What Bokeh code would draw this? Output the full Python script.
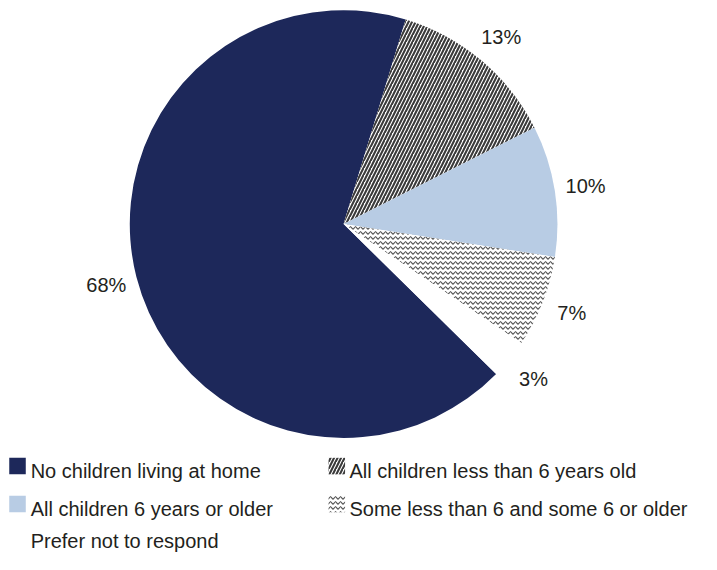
import math
from bokeh.plotting import figure
from bokeh.models import Range1d
from bokeh.core.properties import value
from bokeh.embed import file_html
from bokeh.resources import INLINE

# ---- data ----
categories = [
    "No children living at home",
    "All children less than 6 years old",
    "All children 6 years or older",
    "Some less than 6 and some 6 or older",
    "Prefer not to respond",
]
values = [68, 13, 10, 7, 3]
pct_labels = ["68%", "13%", "10%", "7%", "3%"]

# ---- styles / layout ----
W, H = 701, 554
S = 0.972                      # overall layout scale so the whole fits the window
FONT = "Liberation Sans"
FS = "20px"
TXT = "#231f20"
styles = [
    dict(fill_color="#1d285a", hatch_pattern=" ", hatch_color="#1d285a", hatch_scale=6, hatch_weight=1),
    dict(fill_color="white", hatch_pattern="right_diagonal_line", hatch_color="#3a3a3a", hatch_scale=7, hatch_weight=2.1),
    dict(fill_color="#b8cce4", hatch_pattern=" ", hatch_color="#b8cce4", hatch_scale=6, hatch_weight=1),
    dict(fill_color="white", hatch_pattern="horizontal_wave", hatch_color="#555555", hatch_scale=5, hatch_weight=1.1),
    dict(fill_color="white", hatch_pattern=" ", hatch_color="white", hatch_scale=6, hatch_weight=1),
]
legend_has_icon = [True, True, True, True, False]

def X(px):
    return px * S

def Y(py):
    return H - py * S

cx, cy, R = X(353), Y(230), 220 * S
first_slice_deg = 134.5   # clockwise from 12 o'clock
label_r = 252 * S

p = figure(width=W, height=H, output_backend="svg", toolbar_location=None,
           x_range=Range1d(0, W), y_range=Range1d(0, H), min_border=0,
           outline_line_color=None, background_fill_color="white")
p.axis.visible = False
p.grid.visible = False

total = float(sum(values))
cum = 0.0
for i, v in enumerate(values):
    t1 = first_slice_deg + 360.0 * cum / total
    t2 = t1 + 360.0 * v / total
    cum += v
    p.wedge(x=[cx], y=[cy], radius=R,
            start_angle=[math.radians(90 - t2)], end_angle=[math.radians(90 - t1)],
            line_color=None, **styles[i])
    tm = math.radians((t1 + t2) / 2.0)
    p.text(x=[cx + label_r * math.sin(tm)], y=[cy + label_r * math.cos(tm)], text=[pct_labels[i]],
           text_font=value(FONT), text_font_size=FS, text_color=TXT,
           text_align="center", text_baseline="middle")

# ---- legend ----
icon_cx = [X(17.5), X(346)]
text_x = [X(31), X(359)]
row_base = [Y(484), Y(523), Y(556)]     # text baselines
box = 17 * S
for i, cat in enumerate(categories):
    col = 0 if i in (0, 2, 4) else 1
    row = [0, 0, 1, 1, 2][i]
    if legend_has_icon[i]:
        p.rect(x=[icon_cx[col]], y=[row_base[row] + 5 * S], width=box, height=box,
               line_color=None, **styles[i])
    p.text(x=[text_x[col]], y=[row_base[row]], text=[cat],
           text_font=value(FONT), text_font_size=FS, text_color=TXT,
           text_align="left", text_baseline="alphabetic")

open("out.html", "w").write(file_html(p, INLINE))
